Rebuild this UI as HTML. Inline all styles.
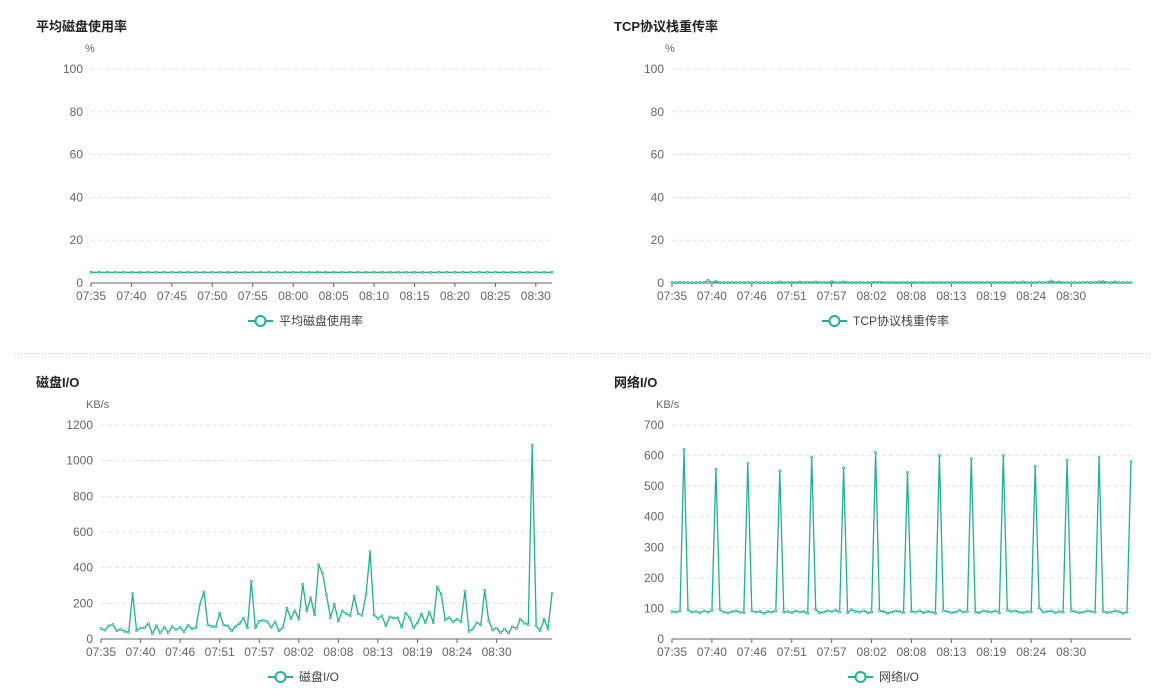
<!DOCTYPE html>
<html><head><meta charset="utf-8"><style>
body{margin:0;background:#fff;width:1154px;height:700px;overflow:hidden;font-family:"Liberation Sans","Noto Sans CJK SC",sans-serif;}
svg{position:absolute;left:0;top:0}
</style></head><body>
<svg id="s" width="1154" height="700"></svg>
<script>
const diskUsageValues = Array(58).fill(5);
const diskUsageLabels = ["07:35","07:40","07:45","07:50","07:55","08:00","08:05","08:10","08:15","08:20","08:25","08:30"];
const tcpValues = [0.3,0.2,0.4,0.2,0.3,0.2,0.2,0.3,0.2,1.2,0.3,0.8,0.2,0.3,0.2,0.4,0.2,0.3,0.2,0.3,0.2,0.3,0.2,0.2,0.3,0.2,0.2,0.6,0.2,0.3,0.4,0.2,0.5,0.3,0.4,0.2,0.5,0.3,0.3,0.2,0.7,0.3,0.2,0.6,0.3,0.2,0.2,0.3,0.2,0.2,0.3,0.4,0.4,0.3,0.2,0.3,0.2,0.2,0.3,0.2,0.2,0.2,0.3,0.2,0.2,0.3,0.2,0.3,0.2,0.3,0.2,0.3,0.2,0.3,0.2,0.3,0.2,0.3,0.2,0.4,0.2,0.3,0.2,0.3,0.2,0.3,0.4,0.2,0.5,0.2,0.3,0.2,0.4,0.2,0.3,1.0,0.3,0.5,0.2,0.3,0.2,0.3,0.2,0.3,0.4,0.2,0.3,0.5,0.7,0.3,0.2,0.6,0.2,0.3,0.2,0.2];
const ioLabels = ["07:35","07:40","07:46","07:51","07:57","08:02","08:08","08:13","08:19","08:24","08:30"];
const diskIoValues = [59,50,74,81,46,54,43,37,255,48,61,63,87,30,74,33,67,35,70,52,65,41,78,57,63,194,265,80,70,69,144,78,74,46,70,87,117,63,324,63,100,105,98,65,96,46,65,172,113,159,111,307,157,231,135,416,370,246,120,194,100,157,142,130,240,142,133,250,490,135,115,130,74,124,118,118,65,146,120,63,92,139,92,152,92,292,250,107,120,96,111,96,268,43,56,92,78,274,102,50,61,35,56,33,69,59,111,89,81,1088,74,46,111,56,255];
const netValues = [90,88,92,620,95,88,90,86,92,88,94,555,96,88,85,90,92,88,86,575,92,88,90,84,90,88,92,550,88,90,86,92,88,90,84,595,96,86,88,92,90,94,88,560,86,96,90,88,92,86,88,610,92,90,84,88,92,90,86,545,90,88,92,86,90,88,84,600,92,90,86,88,94,88,90,590,88,86,92,90,88,92,86,600,94,90,92,88,86,90,88,565,102,88,90,92,86,90,88,585,92,90,86,88,92,90,88,595,90,86,88,92,90,84,88,580];

const NS="http://www.w3.org/2000/svg";
const S=document.getElementById('s');
function el(tag,attrs,parent,text){const e=document.createElementNS(NS,tag);for(const k in attrs)e.setAttribute(k,attrs[k]);if(text!==undefined)e.textContent=text;(parent||S).appendChild(e);return e;}
const C="#20b28e";
function chart(o){
  const g=el('g',{});
  
  
  const t=el('text',{x:o.tx,y:o.ty,'font-size':13,'font-weight':'bold',fill:'#222'},g,o.title);
  
  
  const u=el('text',{x:o.ux,y:o.y1-17,'font-size':11,fill:'#666'},g,o.unit);
  
  
  const ys=v=>o.y0-(v/o.ymax)*(o.y0-o.y1);
  const n=o.values.length;
  const xs=i=>o.x0+i*(o.x1-o.x0)/(n-1);
  for(let k=0;k<=o.ymax;k+=o.ystep){
    const y=ys(k);
    if(k>0){const gl=el('line',{x1:o.x0,x2:o.x1,y1:y,y2:y,stroke:'#e3e3e3','stroke-dasharray':'4,3'},g);
      
      }
    const tl=el('text',{x:o.x0-8,y:y+4,'font-size':12,fill:'#666','text-anchor':'end'},g,String(k));
    
    
  }
  const ax=el('line',{x1:o.x0,x2:o.x1,y1:o.y0,y2:o.y0,stroke:'#666'},g);
  
  
  o.labels.forEach((lb,j)=>{
    const x=xs(j*o.every);
    el('line',{x1:x,x2:x,y1:o.y0,y2:o.y0+4,stroke:'#666'},g);
    const xl=el('text',{x:x,y:o.y0+17,'font-size':12,fill:'#666','text-anchor':'middle'},g,lb);
    
    
  });
  const pts=o.values.map((v,i)=>xs(i).toFixed(1)+','+ys(v).toFixed(1)).join(' ');
  const pl=el('polyline',{points:pts,fill:'none',stroke:C,'stroke-width':1.3,'stroke-linejoin':'round'},g);
  
  
  o.values.forEach((v,i)=>{
    const c=el('circle',{cx:xs(i),cy:ys(v),r:1,fill:'#fff',stroke:C,'stroke-width':0.8},g);
    
    
  });
  const lg=el('g',{},g);
  
  
  const lx=o.lx, ly=o.y0+38;
  el('line',{x1:lx,x2:lx+25,y1:ly,y2:ly,stroke:C,'stroke-width':2},lg);
  el('circle',{cx:lx+12.5,cy:ly,r:5,fill:'#fff',stroke:C,'stroke-width':2},lg);
  el('text',{x:lx+31,y:ly+4,'font-size':12,fill:'#444'},lg,o.title);
}
chart({name:'avg-disk-usage-chart',title:'平均磁盘使用率',unit:'%',tx:36,ty:31,ux:85,x0:91,x1:552,y0:283,y1:69,ymax:100,ystep:20,values:diskUsageValues,labels:diskUsageLabels,every:5,lx:248});
chart({name:'tcp-retrans-chart',title:'TCP协议栈重传率',unit:'%',tx:614,ty:31,ux:665,x0:672,x1:1131,y0:283,y1:69,ymax:100,ystep:20,values:tcpValues,labels:ioLabels,every:10,lx:822});
chart({name:'disk-io-chart',title:'磁盘I/O',unit:'KB/s',tx:36,ty:387,ux:86,x0:101,x1:552,y0:639,y1:425,ymax:1200,ystep:200,values:diskIoValues,labels:ioLabels,every:10,lx:268});
chart({name:'network-io-chart',title:'网络I/O',unit:'KB/s',tx:614,ty:387,ux:656,x0:672,x1:1131,y0:639,y1:425,ymax:700,ystep:100,values:netValues,labels:ioLabels,every:10,lx:848});
const sep=el('line',{x1:15,x2:1152,y1:353.5,y2:353.5,stroke:'#ccc','stroke-dasharray':'1,2'});


</script>
</body></html>
